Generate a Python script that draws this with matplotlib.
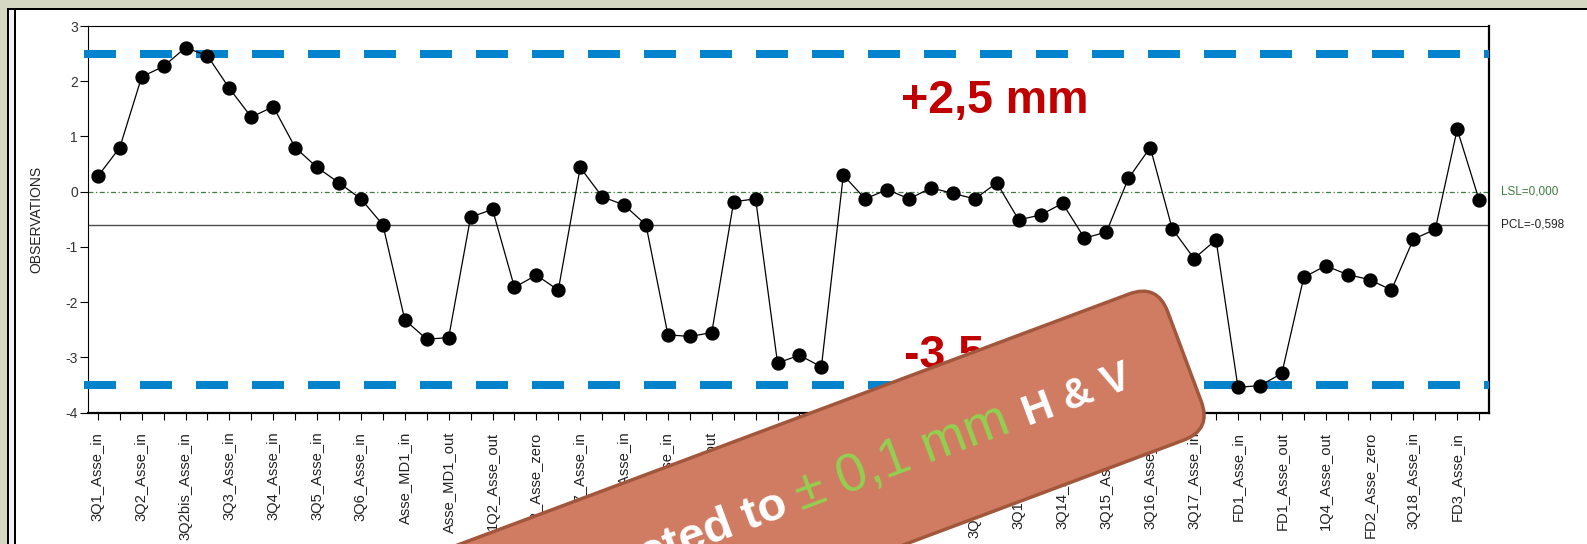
import matplotlib
matplotlib.use("Agg")
import matplotlib.pyplot as plt
from matplotlib.patches import Rectangle, FancyBboxPatch
from matplotlib.transforms import Affine2D
import numpy as np

plt.rcParams['font.family'] = ['Liberation Sans', 'DejaVu Sans']

# ---- data -------------------------------------------------------------
observations = [
    0.28, 0.80, 2.08, 2.27, 2.61, 2.46, 1.87, 1.35, 1.54, 0.80,
    0.44, 0.16, -0.13, -0.60, -2.32, -2.67, -2.64, -0.46, -0.32, -1.73,
    -1.51, -1.78, 0.44, -0.09, -0.24, -0.60, -2.59, -2.62, -2.55, -0.18,
    -0.13, -3.10, -2.96, -3.17, 0.30, -0.13, 0.04, -0.13, 0.07, -0.03,
    -0.13, 0.16, -0.51, -0.42, -0.21, -0.84, -0.73, 0.24, 0.80, -0.67,
    -1.21, -0.87, -3.54, -3.51, -3.29, -1.55, -1.34, -1.50, -1.59, -1.78,
    -0.86, -0.68, 1.13, -0.15,
]

# one label for every second observation
tick_names = [
    "3Q1_Asse_in", "3Q2_Asse_in", "3Q2bis_Asse_in", "3Q3_Asse_in",
    "3Q4_Asse_in", "3Q5_Asse_in", "3Q6_Asse_in", "Asse_MD1_in",
    "Asse_MD1_out", "1Q2_Asse_out", "1Q2_Asse_zero", "3Q7_Asse_in",
    "3Q8_Asse_in", "3Q9_Asse_in", "3Q10_Asse_out", "3Q10_Asse_in",
    "3Q11_Asse_in", "1Q3_Asse_out", "1Q3_Asse_zero", "3Q12_Asse_in",
    "3Q12_Asse_out", "3Q13_Asse_in", "3Q14_Asse_in", "3Q15_Asse_in",
    "3Q16_Asse_in", "3Q17_Asse_in", "FD1_Asse_in", "FD1_Asse_out",
    "1Q4_Asse_out", "FD2_Asse_zero", "3Q18_Asse_in", "FD3_Asse_in",
]

y_ticks = [-4, -3, -2, -1, 0, 1, 2, 3]
lsl_value = 0.0
pcl_value = -0.598
tolerance_limits = [2.5, -3.5]

# ---- figure geometry (pixels) -----------------------------------------
W, H = 1587, 544
fig = plt.figure(figsize=(W / 100, H / 100), dpi=100)
fig.patch.set_facecolor('#D6D8C4')


def fx(x):
    return x / W


def fy(y):
    return 1 - y / H


def frame_rect(x0, y0, x1, y1, color, z=-2):
    fig.patches.append(Rectangle((fx(x0), fy(y1)), fx(x1 - x0), (y1 - y0) / H,
                                 transform=fig.transFigure, facecolor=color,
                                 edgecolor='none', zorder=z))


# window panel with its double left border
frame_rect(9, 10, W, H, 'white', -3)
frame_rect(9, 10, 14, H, '#F2F2F2', -2)
frame_rect(7, 8, W, 10, 'black', -2)
frame_rect(7, 8, 9, H, 'black', -2)
frame_rect(14, 10, 16, H, 'black', -2)

ax_l, ax_r, ax_t, ax_b = 88, 1489, 26, 412.7
ax = fig.add_axes([fx(ax_l), fy(ax_b), fx(ax_r - ax_l), (ax_b - ax_t) / H])
ax.set_facecolor('white')

x = np.arange(len(observations))
ax.set_xlim(-0.45, len(observations) - 1 + 0.45)
ax.set_ylim(-4, 3)

# control lines
ax.axhline(lsl_value, color='#3E7D3E', lw=0.9, dashes=(4, 2, 1, 2), zorder=2)
ax.axhline(pcl_value, color='#4D4D4D', lw=1.0, zorder=2)

# tolerance limits (thick blue dashes)
x_start = (84 - ax_l) / (ax_r - ax_l)
for lim in tolerance_limits:
    ax.plot([x_start, 1.0], [lim, lim], transform=ax.get_yaxis_transform(),
            color='#0383CC', lw=5.76, dashes=(4, 3), dash_capstyle='butt',
            clip_on=False, zorder=3)

# observations
ax.plot(x, observations, color='black', lw=0.9, marker='o', ms=9.3,
        mfc='black', mec='black', zorder=4)

# axes styling
for side in ('top', 'left'):
    ax.spines[side].set_linewidth(0.8)
for side in ('right', 'bottom'):
    ax.spines[side].set_linewidth(1.6)

ax.set_yticks(y_ticks)
ax.set_yticklabels([str(v) for v in y_ticks])
ax.tick_params(axis='y', length=5.8, width=0.8, pad=1.5, labelsize=10,
               labelcolor='#333333')

ax.set_xticks(x)
labels = [tick_names[i // 2] if i % 2 == 0 else '' for i in x]
ax.set_xticklabels(labels, rotation=90)
ax.tick_params(axis='x', length=4.7, width=0.8, pad=9, labelsize=10.6,
               labelcolor='#222222')

ax.set_ylabel('OBSERVATIONS', fontsize=10, color='#222222')
ax.yaxis.set_label_coords((43 - ax_l) / (ax_r - ax_l), 0.5)

# line annotations on the right
ax.text(1 + 12 / (ax_r - ax_l), lsl_value, f"LSL={lsl_value:.3f}".replace('.', ','),
        transform=ax.get_yaxis_transform(), color='#3E7D3E', fontsize=8.5,
        va='center', ha='left')
ax.text(1 + 12 / (ax_r - ax_l), pcl_value, f"PCL={pcl_value:.3f}".replace('.', ','),
        transform=ax.get_yaxis_transform(), color='#222222', fontsize=8.5,
        va='center', ha='left')

# tolerance captions
caption_pos = [(901, 113), (904, 368)]
for lim, (px, py) in zip(tolerance_limits, caption_pos):
    txt = f"{lim:+.1f} mm".replace('.', ',')
    fig.text(fx(px), fy(py), txt, fontsize=33.5, fontweight='bold',
             color='#C00000', ha='left', va='baseline', zorder=5)

# ---- rotated callout --------------------------------------------------
angle = 20.5
a = np.deg2rad(angle)
u = np.array([np.cos(a), np.sin(a)])
n_down = np.array([np.sin(a), -np.cos(a)])

# midpoint of the upper long edge at the right end of the callout
top_right = np.array([1182.0, H - 350.0]) - 71 * n_down
box_len, box_h, radius = 900, 156, 30
right_center = top_right + (box_h / 2) * n_down
center = right_center - (box_len / 2) * u

px_to_in = Affine2D().scale(1 / 100)
box_trans = Affine2D().rotate_deg(angle).translate(*center) + px_to_in + fig.dpi_scale_trans
box = FancyBboxPatch((-box_len / 2, -box_h / 2), box_len, box_h,
                     boxstyle=f"round,pad=0,rounding_size={radius}",
                     facecolor='#D07C62', edgecolor='#A2573D', lw=2.5,
                     transform=box_trans, zorder=10)
fig.patches.append(box)

renderer = fig.canvas.get_renderer()
white_kw = dict(fontsize=34, fontweight='bold')
green_kw = dict(fontsize=39, fontweight='normal')
tail_kw = dict(fontsize=30.5, fontweight='bold')


def text_width(s, kw):
    t = fig.text(0, 0, s, **kw)
    w = t.get_window_extent(renderer).width
    t.remove()
    return w


part1, part2, part3 = "Corrected to", "± 0,1 mm", "H & V"
gap = text_width("a a", white_kw) - text_width("aa", white_kw)
w1 = text_width(part1, white_kw)
w2 = text_width(part2, green_kw)
w3 = text_width(part3, tail_kw)
off2 = w1 + gap
off3 = off2 + w2 + 1.2 * gap
w_full = off3 + w3

end_pt = top_right - 58 * u + (71 + 17) * n_down
start_pt = end_pt - w_full * u
for s, off, col, kw in [(part1, 0, 'white', white_kw),
                        (part2, off2, '#92D050', green_kw),
                        (part3, off3, 'white', tail_kw)]:
    p = start_pt + off * u
    fig.text(p[0] / W, p[1] / H, s, color=col, rotation=angle,
             rotation_mode='anchor', ha='left', va='baseline', zorder=11,
             **kw)

fig.savefig('out.png', dpi=100, facecolor=fig.get_facecolor())
